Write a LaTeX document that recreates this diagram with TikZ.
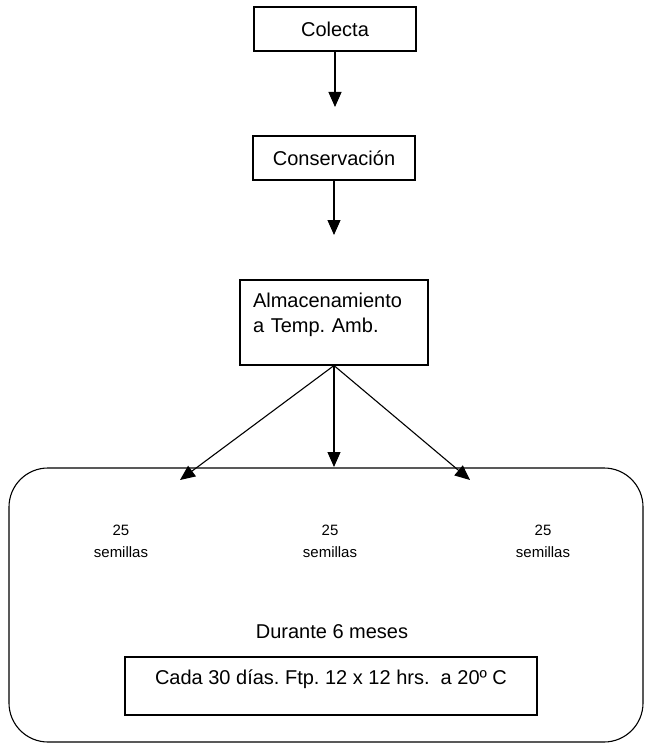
\documentclass[tikz,border=0pt]{standalone}
\usepackage{fontspec}
\setmainfont{Liberation Sans}
\usetikzlibrary{arrows.meta,positioning}
\frenchspacing

\begin{document}
\begin{tikzpicture}[x=1pt,y=-1pt,
    box/.style={draw, line width=1.1pt, inner sep=0pt, font=\fontsize{20}{25}\selectfont},
    arr/.style={line width=1.1pt, -{Triangle[length=15pt,width=13pt]}},
    lbl/.style={font=\fontsize{20}{25}\selectfont},
    small/.style={align=center, font=\fontsize{15}{22}\selectfont}]
    \useasboundingbox (0,0) rectangle (646,743);
    \node[box, minimum width=162pt, minimum height=44pt] (colecta) at (335,29) {Colecta};
    \node[box, minimum width=162pt, minimum height=44pt] (conserv) at (334,158) {Conservación};
    \node[box, minimum width=188pt, minimum height=85pt, align=left, text width=162pt, inner xsep=13pt]
        (almac) at (334,322.5) {Almacenamiento\\a Temp. Amb.\\[-5pt]\mbox{}};
    \node[draw, line width=1.1pt, rounded corners=39pt, minimum width=634pt, minimum height=274pt]
        (grupo) at (326,605) {};
    \coordinate (tip1) at (335,107);
    \coordinate (tip2) at (334,235);
    \coordinate (tipL) at (180,480);
    \coordinate (tipM) at (334,467);
    \coordinate (tipR) at (470,480);
    \draw[arr] (colecta) -- (tip1);
    \draw[arr] (conserv) -- (tip2);
    \draw[arr] (almac.south) -- (tipL);
    \draw[arr] (almac.south) -- (tipM);
    \draw[arr] (almac.south) -- (tipR);
    \node[small] (sem1) at (121,541) {25\\semillas};
    \node[small] (sem2) at (330,541) {25\\semillas};
    \node[small] (sem3) at (543,541) {25\\semillas};
    \node[lbl] (durante) at (332,632) {Durante 6 meses};
    \node[box, minimum width=412pt, minimum height=58pt, text height=14pt, text depth=18pt]
        (cada) at (331,686) {Cada 30 días. Ftp. 12 x 12 hrs.~ a 20º C};
\end{tikzpicture}
\end{document}
